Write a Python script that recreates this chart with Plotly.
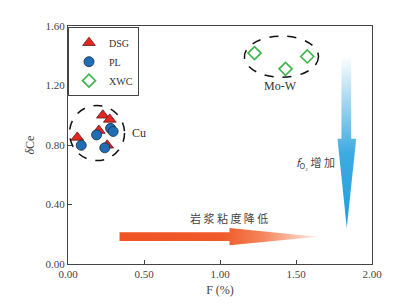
import plotly.graph_objects as go

# Data
dsg_x = [0.229, 0.275, 0.061, 0.203, 0.258]
dsg_y = [1.000, 0.972, 0.851, 0.897, 0.798]
pl_x = [0.087, 0.188, 0.280, 0.297, 0.242]
pl_y = [0.798, 0.868, 0.912, 0.891, 0.781]
xwc_x = [1.227, 1.431, 1.574]
xwc_y = [1.418, 1.312, 1.395]
x_ticks = [0.0, 0.5, 1.0, 1.5, 2.0]
y_ticks = [0.0, 0.4, 0.8, 1.2, 1.6]

serif = "Liberation Serif"
cjk = "Noto Sans CJK SC"

fig = go.Figure()

# Blue arrow (fO2 increase)
bx = [1.799, 1.863, 1.863, 1.896, 1.834, 1.773, 1.799, 1.799]
by = [1.406, 1.406, 0.842, 0.842, 0.242, 0.842, 0.842, 1.406]
fig.add_trace(go.Scatter(x=bx, y=by, mode="lines", fill="toself", line=dict(width=0),
                         fillgradient=dict(type="vertical",
                                           colorscale=[[0, "#1ea0dc"], [0.45, "#3eaae2"], [1, "#ffffff"]],
                                           start=0.242, stop=1.406),
                         hoverinfo="skip", showlegend=False))
# Orange arrow (viscosity decrease)
ox = [0.339, 1.0625, 1.0625, 1.641, 1.0625, 1.0625, 0.339, 0.339]
oy = [0.214, 0.214, 0.242, 0.184, 0.126, 0.155, 0.155, 0.214]
fig.add_trace(go.Scatter(x=ox, y=oy, mode="lines", fill="toself", line=dict(width=0),
                         fillgradient=dict(type="horizontal",
                                           colorscale=[[0, "#f05424"], [0.52, "#f05a28"], [0.72, "#f4845a"], [1, "#fdeae0"]],
                                           start=0.339, stop=1.641),
                         hoverinfo="skip", showlegend=False))

fig.add_trace(go.Scatter(x=dsg_x, y=dsg_y, mode="markers", name="DSG",
                         marker=dict(symbol="triangle-up", size=11, color="#e42522",
                                     line=dict(color="#5a1a1a", width=0.8))))
fig.add_trace(go.Scatter(x=pl_x, y=pl_y, mode="markers", name="PL",
                         marker=dict(symbol="circle", size=10, color="#1f6db4",
                                     line=dict(color="#1a2a40", width=0.8))))
fig.add_trace(go.Scatter(x=xwc_x, y=xwc_y, mode="markers", name="XWC",
                         marker=dict(symbol="diamond-open", size=10, color="#3bb54a",
                                     line=dict(color="#3bb54a", width=1.6))))

# Dashed ellipses
fig.add_shape(type="circle", xref="x", yref="y", x0=0.01, x1=0.372, y0=0.695, y1=1.066,
              line=dict(color="#111111", width=1.5, dash="dash"))
fig.add_shape(type="circle", xref="x", yref="y", x0=1.161, x1=1.648, y0=1.255, y1=1.532,
              line=dict(color="#111111", width=1.5, dash="dash"))

fig.add_annotation(x=0.464, y=0.879, text="Cu", showarrow=False,
                   font=dict(family=serif, size=12, color="#333333"))
fig.add_annotation(x=1.398, y=1.196, text="Mo-W", showarrow=False,
                   font=dict(family=serif, size=12, color="#333333"))
fig.add_annotation(x=1.06, y=0.31, text="岩 浆 粘 度 降 低", showarrow=False,
                   font=dict(family=cjk, size=11, color="#444444"))
fig.add_annotation(x=1.63, y=0.685, text="<i>f</i><sub>O₂</sub> 增 加", showarrow=False,
                   font=dict(family=cjk, size=11, color="#444444"))

axis_common = dict(showgrid=False, zeroline=False, showline=True, linecolor="#444444",
                   linewidth=1, mirror=True, ticks="inside", ticklen=4, tickcolor="#444444",
                   tickfont=dict(family=serif, size=11, color="#444444"))
fig.update_xaxes(range=[0, 2.0], tickvals=x_ticks, ticktext=[f"{v:.2f}" for v in x_ticks],
                 title=dict(text="F (%)", font=dict(family=serif, size=12, color="#444444"), standoff=6),
                 **axis_common)
fig.update_yaxes(range=[0, 1.6], tickvals=y_ticks, ticktext=[f"{v:.2f}" for v in y_ticks],
                 title=dict(text="<i>δ</i>Ce", font=dict(family=serif, size=12, color="#444444"), standoff=8),
                 **axis_common)

# page body has an 8px margin, compensate so the plot area lands where the reference has it
fig.update_layout(width=409, height=305, margin=dict(l=60, r=45, t=12, b=49),
                  paper_bgcolor="white", plot_bgcolor="white",
                  legend=dict(x=0, y=0.995, xanchor="left", yanchor="top", bgcolor="white",
                              bordercolor="#444444", borderwidth=1,
                              font=dict(family=serif, size=10, color="#333333"),
                              itemwidth=30),
                  showlegend=True)

fig.write_html("out.html")
